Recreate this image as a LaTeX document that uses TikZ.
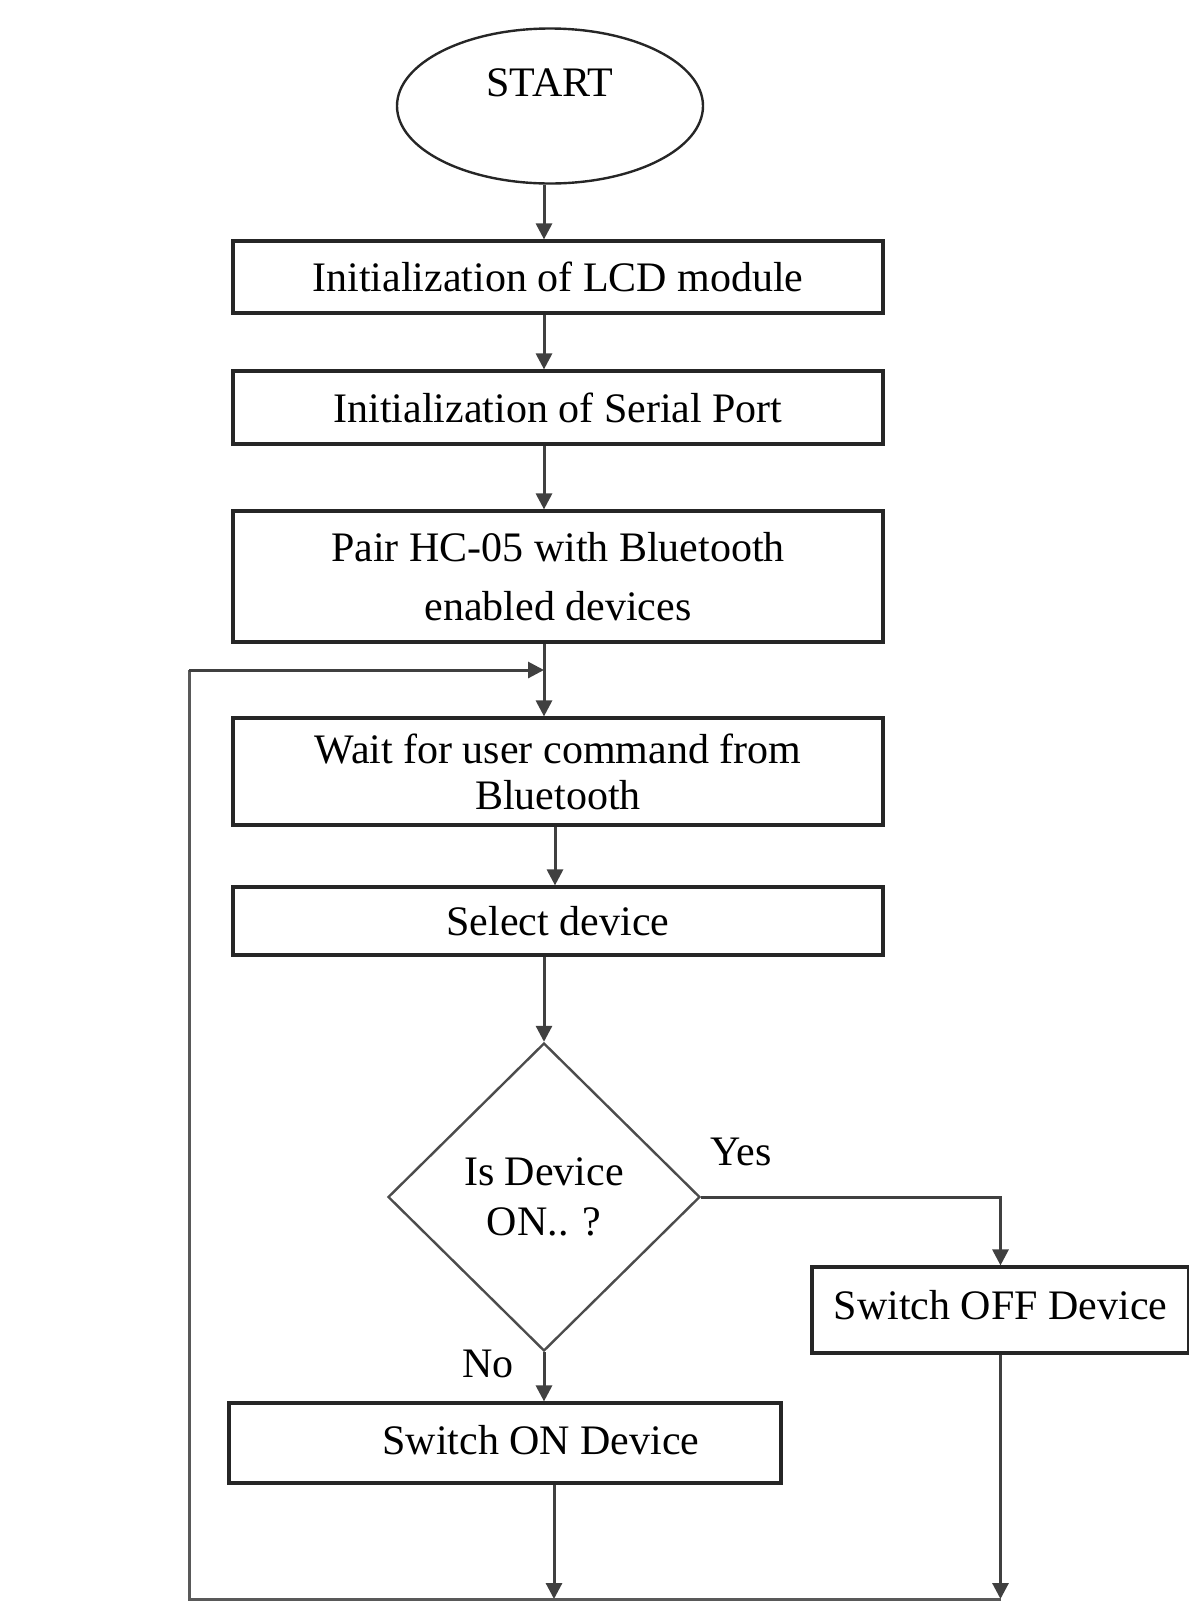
\documentclass[tikz,border=0pt]{standalone}
\usepackage{fontspec}
\setmainfont{Liberation Serif}
\usetikzlibrary{shapes.geometric,arrows.meta}
\begin{document}
\begin{tikzpicture}[x=0.5pt,y=-0.5pt,
  txt/.style={font=\fontsize{21}{26}\selectfont},
  box/.style={txt,draw=black!85,line width=1.6pt,rectangle,inner sep=0pt,minimum width=325pt,align=center},
  arr/.style={-{Triangle[width=8pt,length=8pt]},line width=1.5pt,draw=black!75},
  ln/.style={line width=1.5pt,draw=black!65}
]
\useasboundingbox (0,0) rectangle (1189,1602);

\node[ellipse,draw=black!85,line width=1.2pt,minimum width=153pt,minimum height=77.5pt,inner sep=0pt,
      label={[txt,yshift=11.5pt]center:START}] (start) at (550,106) {};

\node[box,minimum height=36pt] (b1) at (558,277) {Initialization of LCD module};
\node[box,minimum height=36.5pt] (b2) at (558,407.5) {Initialization of Serial Port};
\node[box,minimum height=65.5pt,font=\fontsize{21}{29.5}\selectfont] (b3) at (558,576.5) {Pair HC-05 with Bluetooth\\enabled devices};
\node[box,minimum height=53.5pt,font=\fontsize{21}{23}\selectfont] (b4) at (558,771.5) {Wait for user command from\\Bluetooth};
\node[box,minimum height=34pt] (b5) at (558,921) {Select device};

\node[diamond,draw=black!70,line width=1.2pt,minimum width=156pt,minimum height=154pt,inner sep=0pt,
      align=center,font=\fontsize{21}{25}\selectfont] (dec) at (544,1197) {Is Device\\ON.. ?};

\node[box,minimum width=188.5pt,minimum height=43pt] (off) at (1000.5,1310) {\raisebox{5pt}{Switch OFF Device}};
\node[box,minimum width=276pt,minimum height=40pt] (on) at (505,1443) {\hspace*{36pt}\raisebox{3pt}{Switch ON Device}};

\node[txt] (yes) at (741,1152) {Yes};
\node[txt] (no) at (488,1364) {No};

\coordinate (ax) at (544,0);
\coordinate (bx) at (555,0);
\coordinate (cx) at (554,0);
\coordinate (bl) at (189,1599);
\coordinate (tl) at (189,670);

\draw[arr] (start.south -| ax) -- (b1.north -| ax);
\draw[arr] (b1.south -| ax) -- (b2.north -| ax);
\draw[arr] (b2.south -| ax) -- (b3.north -| ax);
\draw[arr] (b3.south -| ax) -- (b4.north -| ax);
\draw[arr] (b4.south -| bx) -- (b5.north -| bx);
\draw[arr] (b5.south -| ax) -- (dec.north);
\draw[arr] (dec.east) -| (off.north);
\draw[arr] (dec.south) -- (on.north -| dec.south);
\draw[arr] (on.south -| cx) -- (cx |- bl);
\draw[arr] (off.south) -- (off.south |- bl);
\draw[ln] (off.south |- bl) -- (bl) -- (tl);
\draw[arr] (tl) -- (tl -| ax);
\end{tikzpicture}
\end{document}
